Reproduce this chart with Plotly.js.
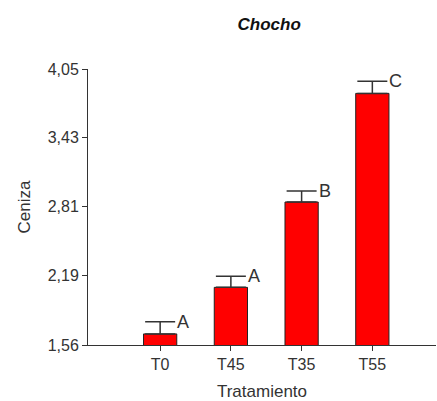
<!DOCTYPE html>
<html>
<head>
<meta charset="utf-8">
<script src="https://cdn.plot.ly/plotly-3.0.1.min.js"></script>
<style>html,body{margin:0;padding:0;background:#fff;}#chart{width:437px;height:401px;}</style>
</head>
<body>
<div id="chart"></div>
<script>
const categories = ['T0', 'T45', 'T35', 'T55'];
const means = [1.66, 2.08, 2.85, 3.83];
const errors = [0.11, 0.10, 0.10, 0.11];
const letters = ['A', 'A', 'B', 'C'];
const yTicks = [1.56, 2.19, 2.81, 3.43, 4.05];
const yTickText = ['1,56', '2,19', '2,81', '3,43', '4,05'];

const fontFam = 'Liberation Sans, Arial, sans-serif';
const textCol = '#333333';

const bar = {
  type: 'bar',
  x: categories,
  y: means,
  width: 0.47,
  marker: {color: '#ff0000', line: {color: '#222222', width: 1}},
  error_y: {type: 'data', symmetric: false, array: errors, arrayminus: errors.map(() => 0),
            color: '#333333', thickness: 1.5, width: 15},
  hoverinfo: 'x+y'
};

const annotations = categories.map((c, i) => ({
  x: c, y: means[i] + errors[i], xref: 'x', yref: 'y',
  text: letters[i], showarrow: false, xanchor: 'left', yanchor: 'middle',
  xshift: 15, font: {family: fontFam, size: 18, color: textCol}
}));

const layout = {
  width: 437, height: 401,
  margin: {l: 88, r: 1, t: 69, b: 56},
  paper_bgcolor: '#ffffff', plot_bgcolor: '#ffffff',
  showlegend: false,
  title: {text: '<b><i>Chocho</i></b>', x: 0.616, xref: 'container', xanchor: 'center',
          y: 0.94, yref: 'container', yanchor: 'middle',
          font: {family: fontFam, size: 17, color: '#111111'}},
  xaxis: {
    type: 'category', range: [-1.02, 3.9],
    showline: true, linecolor: '#333333', linewidth: 1,
    ticks: 'outside', ticklen: 5, tickcolor: '#333333',
    showgrid: false, zeroline: false,
    tickfont: {family: fontFam, size: 16, color: textCol},
    title: {text: 'Tratamiento', standoff: 12, font: {family: fontFam, size: 17, color: textCol}}
  },
  yaxis: {
    range: [1.56, 4.05],
    tickvals: yTicks, ticktext: yTickText,
    showline: true, linecolor: '#333333', linewidth: 1,
    ticks: 'outside', ticklen: 5, tickcolor: '#333333',
    showgrid: false, zeroline: false,
    tickfont: {family: fontFam, size: 16, color: textCol},
    title: {text: 'Ceniza', standoff: 12, font: {family: fontFam, size: 17, color: textCol}}
  },
  annotations: annotations
};

Plotly.newPlot('chart', [bar], layout, {displayModeBar: false, staticPlot: true});
</script>
</body>
</html>
